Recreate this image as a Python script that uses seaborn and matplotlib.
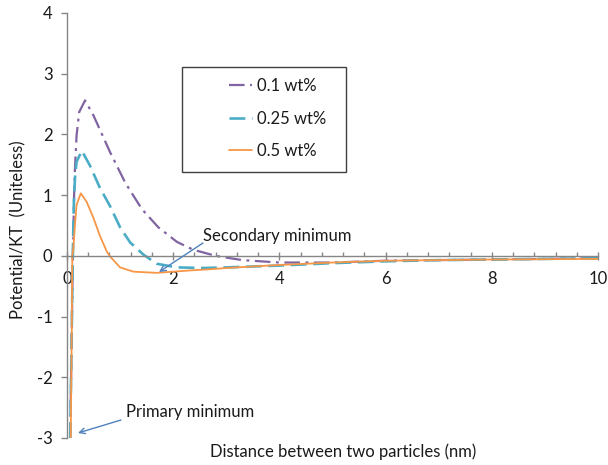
import matplotlib
matplotlib.use("Agg")
import matplotlib.pyplot as plt
import seaborn as sns
import pandas as pd
from matplotlib.patches import Rectangle
from matplotlib.ticker import MultipleLocator

sns.set_style("white")
plt.rcParams['font.family'] = ['Lato', 'DejaVu Sans']
plt.rcParams['axes.unicode_minus'] = False

# Data
x_01 = [0.06, 0.09, 0.11, 0.12, 0.13, 0.15, 0.18, 0.23, 0.34, 0.5, 0.81, 1.1, 1.41, 1.72, 2.07, 2.38, 2.8, 3.3, 4, 5, 6, 7, 8, 9, 10]
y_01 = [-3.0, -1.2, 0.0, 0.34, 0.89, 1.44, 1.98, 2.37, 2.56, 2.31, 1.71, 1.2, 0.77, 0.47, 0.23, 0.1, 0.0, -0.07, -0.11, -0.11, -0.08, -0.07, -0.06, -0.05, -0.04]

x_025 = [0.06, 0.09, 0.11, 0.12, 0.13, 0.15, 0.18, 0.28, 0.43, 0.62, 0.81, 1.0, 1.19, 1.44, 1.69, 2.07, 2.57, 3, 4, 5, 6, 7, 8, 9, 10]
y_025 = [-3.0, -1.2, 0.0, 0.51, 0.89, 1.28, 1.55, 1.73, 1.49, 1.12, 0.82, 0.47, 0.22, 0.02, -0.13, -0.19, -0.2, -0.19, -0.16, -0.12, -0.09, -0.07, -0.06, -0.05, -0.04]

x_05 = [0.07, 0.09, 0.10, 0.12, 0.15, 0.18, 0.26, 0.37, 0.5, 0.62, 0.75, 0.81, 1.0, 1.25, 1.69, 2.32, 2.7, 3, 4, 5, 6, 7, 8, 9, 10]
y_05 = [-3.0, -1.2, 0.0, 0.13, 0.51, 0.84, 1.03, 0.89, 0.62, 0.33, 0.07, -0.01, -0.19, -0.26, -0.28, -0.24, -0.22, -0.2, -0.15, -0.11, -0.08, -0.07, -0.06, -0.055, -0.05]

labels = ["0.1 wt%", "0.25 wt%", "0.5 wt%"]
x_ticks = [0, 2, 4, 6, 8, 10]
y_ticks = [-3, -2, -1, 0, 1, 2, 3, 4]

W, H = 608, 465
fig = plt.figure(figsize=(W / 100, H / 100), dpi=100)
L, R, T, B = 67, 598, 13, 438
ax = fig.add_axes([L / W, 1 - B / H, (R - L) / W, (B - T) / H])

def ax_xy(px, py):
    return ((px - L) / (R - L), (B - py) / (B - T))

df1 = pd.DataFrame({"x": x_01, "y": y_01})
df2 = pd.DataFrame({"x": x_025, "y": y_025})
df3 = pd.DataFrame({"x": x_05, "y": y_05})

sns.lineplot(data=df1, x="x", y="y", ax=ax, color="#8064A2", lw=1.6,
             label=labels[0], estimator=None)
sns.lineplot(data=df2, x="x", y="y", ax=ax, color="#4BACC6", lw=1.9,
             label=labels[1], estimator=None)
sns.lineplot(data=df3, x="x", y="y", ax=ax, color="#F79646", lw=1.3,
             label=labels[2], estimator=None)
lines = ax.get_lines()
lines[0].set_dashes([7, 2.5, 1.3, 2.5])
lines[1].set_dashes([6, 2.5])

ax.set_xlim(0, 10)
ax.set_ylim(-3, 4)
ax.set_xticks(x_ticks)
ax.set_yticks(y_ticks)
ax.xaxis.set_minor_locator(MultipleLocator(0.4))

for s in ["top", "right"]:
    ax.spines[s].set_visible(False)
ax.spines["bottom"].set_position(("data", 0))
for s in ["left", "bottom"]:
    ax.spines[s].set_color("#868686")
    ax.spines[s].set_linewidth(1.0)

ax.tick_params(axis="y", which="major", direction="out", length=4.5, width=1,
               color="#868686", labelsize=12, pad=6, left=True)
ax.tick_params(axis="x", which="major", direction="inout", length=6, width=1,
               color="#868686", labelsize=12, pad=8, bottom=True)
ax.tick_params(axis="x", which="minor", direction="in", length=3, width=1,
               color="#868686", bottom=True)
for t in ax.get_xticklabels() + ax.get_yticklabels():
    t.set_color("#1a1a1a")

ax.set_xlabel("Distance between two particles (nm)", fontsize=12, color="#1a1a1a")
ax.set_ylabel("Potential/KT  (Uniteless)", fontsize=12, color="#1a1a1a")
ax.xaxis.set_label_coords(*ax_xy(343, 452))
ax.xaxis.label.set_va("center")
ax.yaxis.set_label_coords(*ax_xy(18, 230))
ax.yaxis.label.set_va("center")

# legend with Excel-like box
x0, y1 = ax_xy(182, 67)
x1, y0 = ax_xy(346, 172)
ax.add_patch(Rectangle((x0, y0), x1 - x0, y1 - y0, transform=ax.transAxes,
                       fill=True, facecolor="white", edgecolor="#404040", lw=1.0, zorder=5))
leg = ax.legend(loc="upper left", bbox_to_anchor=ax_xy(229, 78), frameon=False,
                fontsize=12, handlelength=1.4, handletextpad=0.3, labelspacing=1.0,
                borderpad=0, borderaxespad=0)
leg.set_zorder(6)
for t in leg.get_texts():
    t.set_color("#1a1a1a")

arrow_kw = dict(arrowstyle="->", color="#4F81BD", lw=1.0, shrinkA=0, shrinkB=0)
ax.annotate("", xy=ax_xy(159, 272), xytext=ax_xy(203, 243), xycoords="axes fraction",
            textcoords="axes fraction", arrowprops=arrow_kw)
ax.text(*ax_xy(203, 236), "Secondary minimum", transform=ax.transAxes,
        fontsize=12, color="#1a1a1a", ha="left", va="center")
ax.annotate("", xy=ax_xy(78, 433), xytext=ax_xy(121, 420), xycoords="axes fraction",
            textcoords="axes fraction", arrowprops=arrow_kw)
ax.text(*ax_xy(126, 412), "Primary minimum", transform=ax.transAxes,
        fontsize=12, color="#1a1a1a", ha="left", va="center")

fig.savefig("out.png", dpi=100)
